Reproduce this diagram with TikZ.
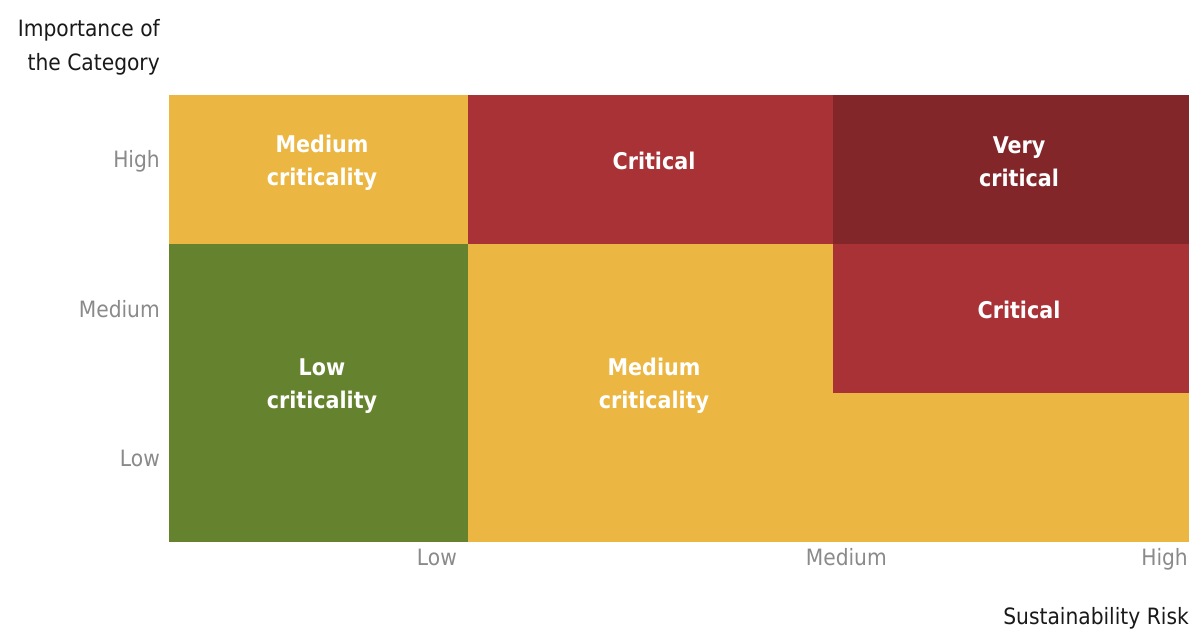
\documentclass[tikz,border=0pt]{standalone}
\usepackage{fontspec}
\setmainfont{DejaVu Sans Condensed}
\usepackage{xcolor}
\usepackage{tikz}
\usetikzlibrary{positioning}

\definecolor{crityellow}{HTML}{EBB642}
\definecolor{critred}{HTML}{A93236}
\definecolor{critdark}{HTML}{822629}
\definecolor{critgreen}{HTML}{65832F}
\definecolor{tickgray}{HTML}{8A8A8A}

\begin{document}
\begin{tikzpicture}[x=1pt, y=-1pt,
    cellnode/.style={rectangle, inner sep=0pt, outer sep=0pt, minimum height=149.4pt},
    critlabel/.style={text=white, align=center, font=\bfseries\fontsize{23}{33}\selectfont},
    ticklabel/.style={text=tickgray, anchor=base east, inner sep=0pt, font=\fontsize{22.5}{27}\selectfont},
    axistitle/.style={text=black!90, anchor=east, inner sep=0pt, align=right, font=\fontsize{22.5}{34}\selectfont},
    ]

    \useasboundingbox (0,0) rectangle (1189,631);

    % matrix cells
    \node[cellnode, fill=crityellow, minimum width=299.4pt] (c11) at (318.5,169.5) {};
    \node[cellnode, fill=critred, minimum width=365.4pt] (c12) at (650.5,169.5) {};
    \node[cellnode, fill=critdark, minimum width=356pt] (c13) at (1011,169.5) {};
    \node[cellnode, fill=critgreen, minimum width=299.4pt, minimum height=298.4pt] (c21) at (318.5,393) {};
    \node[cellnode, fill=crityellow, minimum width=365.4pt, minimum height=298.4pt] (c22) at (650.5,393) {};
    \node[cellnode, fill=critred, minimum width=356pt] (c23) at (1011,318.5) {};
    \node[cellnode, fill=crityellow, minimum width=356pt] (c33) at (1011,467.5) {};

    % cell texts
    \node[critlabel] (t11) at ([xshift=3.5pt, yshift=7pt]c11.center) {Medium\\criticality};
    \node[critlabel] (t12) at ([xshift=3.5pt, yshift=9pt]c12.center) {Critical};
    \node[critlabel] (t13) at ([xshift=8pt, yshift=8pt]c13.center) {Very\\critical};
    \node[critlabel] (t21) at ([xshift=3.5pt, yshift=7pt]c21.center) {Low\\criticality};
    \node[critlabel] (t22) at ([xshift=3.5pt, yshift=7pt]c22.center) {Medium\\criticality};
    \node[critlabel] (t23) at ([xshift=8pt, yshift=9pt]c23.center) {Critical};

    % y ticks
    \node[ticklabel] (yhigh) at (160,168) {High};
    \node[ticklabel] (ymed) at (160,317) {Medium};
    \node[ticklabel] (ylow) at (160,466) {Low};

    % x ticks
    \node[ticklabel] (xlow) at (457,565) {Low};
    \node[ticklabel] (xmed) at (887,565) {Medium};
    \node[ticklabel] (xhigh) at (1188,565) {High};

    % axis titles
    \node[axistitle] (ytitle) at (160,47.5) {Importance of\\the Category};
    \node[axistitle] (xtitle) at (1189,618) {Sustainability Risk};
\end{tikzpicture}
\end{document}
